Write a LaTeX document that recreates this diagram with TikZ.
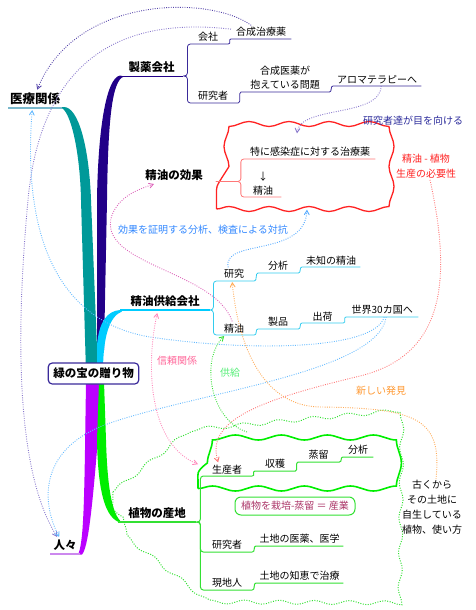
\documentclass[tikz,border=0pt]{standalone}
\usepackage{fontspec}
\setmainfont{Noto Sans CJK JP}
\usepackage{tikz}
\usetikzlibrary{arrows,decorations.pathmorphing}
\definecolor{cteal}{HTML}{009999}
\definecolor{ciryo}{HTML}{7AB8CC}
\definecolor{cind}{HTML}{220088}
\definecolor{cindl}{HTML}{3A2A9A}
\definecolor{ccyan}{HTML}{00CCFF}
\definecolor{ccyanl}{HTML}{33CCEE}
\definecolor{cpurple}{HTML}{BB00FF}
\definecolor{clav}{HTML}{CC88EE}
\definecolor{cgreen}{HTML}{00EE00}
\definecolor{cgreenl}{HTML}{33E033}
\definecolor{cred}{HTML}{FF2222}
\definecolor{credl}{HTML}{FF7777}
\definecolor{corange}{HTML}{FFAA55}
\definecolor{corangel}{HTML}{FF9933}
\definecolor{cpink}{HTML}{DD66BB}
\definecolor{crose}{HTML}{FF88BB}
\definecolor{croset}{HTML}{FF6699}
\definecolor{csky}{HTML}{66BBFF}
\definecolor{cskyd}{HTML}{55AAFF}
\definecolor{cblue}{HTML}{3388FF}
\definecolor{cmukeru}{HTML}{2B2B9B}
\definecolor{clink}{HTML}{5544AA}
\definecolor{clinkl}{HTML}{8877CC}
\definecolor{clime}{HTML}{55EE77}
\definecolor{csangyo}{HTML}{AA3366}

\begin{document}
\begin{tikzpicture}[x=1pt,y=-1pt,>=angle 60,
  topic node/.style={anchor=south west,inner xsep=0pt,inner ysep=3pt,
    font=\fontsize{11.5}{14}\selectfont\bfseries},
  leaf node/.style={anchor=south west,inner xsep=0pt,inner ysep=2pt,align=center,
    font=\fontsize{10}{14}\selectfont},
  note node/.style={inner sep=1pt,align=center,font=\fontsize{10}{15}\selectfont},
  link/.style={->,dash pattern=on 0.9pt off 1.4pt,line width=0.9pt},
  cloud node/.style={decorate,decoration={snake,amplitude=2.5pt,segment length=40pt},inner sep=0pt}]
  \useasboundingbox (0,0) rectangle (475,610);

  % boundaries
  \draw[cgreenl,dash pattern=on 1pt off 1.5pt,line width=1pt,decorate,
    decoration={snake,amplitude=2pt,segment length=35pt}]
    (113,492) -- (180,438) -- (395,418) -- (393,605) -- (197,604) -- (112,537) -- cycle;
  \coordinate (cl) at (247,432);
  \node[cloud node,draw=cgreen,line width=1.6pt,minimum width=182,minimum height=55,
    decoration={segment length=46pt}] (prodcloud) at (289,461) {};
  \node[cloud node,draw=cred,line width=1.3pt,minimum width=167,minimum height=75] (effcloud) at (300,171.5) {};

  % thick branches
  \fill[cteal] (60,107.5) .. controls (70,108) and (80,150) .. (81,200) -- (86,372)
    -- (98,372) -- (91,200) .. controls (89,145) and (78,107) .. (64,107) -- cycle;
  \fill[cind] (120,75.5) .. controls (106,78) and (98,130) .. (97,200) -- (97,350)
    -- (104,350) -- (107,200) .. controls (108,120) and (112,80) .. (124,76.5) -- cycle;
  \fill[ccyan] (97,372) -- (97,345) .. controls (99,322) and (107,311) .. (120,310)
    -- (122,311.5) .. controls (110,316) and (103,335) .. (103,372) -- cycle;
  \fill[cpurple] (86,382) -- (85,450) .. controls (84,510) and (83,545) .. (78,554.5)
    -- (82,554.5) .. controls (88,548) and (92,510) .. (97,450) -- (100,382) -- cycle;
  \fill[cgreen] (99,382) -- (97,440) .. controls (98,495) and (106,518) .. (120,522.5)
    -- (120,520.5) .. controls (110,510) and (107,475) .. (106,440) -- (104,382) -- cycle;

  % topics
  \node[topic node,minimum width=54,font=\fontsize{12.5}{14}\selectfont\bfseries] (iryo) at (8,108) {医療関係};
  \node[topic node,minimum width=63] (seiyaku) at (120,76) {製薬会社};
  \node[topic node,minimum width=90] (kyokyu) at (120,310) {精油供給会社};
  \node[topic node,minimum width=78] (sanchi) at (118,522) {植物の産地};
  \node[topic node,minimum width=30] (hitobito) at (50,554) {人々};
  \node[font=\fontsize{11.5}{14}\selectfont\bfseries] (koka) at (174,175) {精油の効果};
  \draw[ciryo,line width=1.5pt] (iryo.south west) -- (iryo.south east);
  \draw[cind,line width=1pt] (seiyaku.south west) -- (seiyaku.south east);
  \draw[ccyan,line width=1.2pt] (kyokyu.south west) -- (kyokyu.south east);
  \draw[cgreenl,line width=1.2pt] (sanchi.south west) -- (sanchi.south east);
  \draw[clav,line width=1.5pt] (hitobito.south west) -- (hitobito.south east);

  % leaves
  \node[leaf node,minimum width=40] (kaisha) at (188,44) {会社};
  \node[leaf node,minimum width=60] (gosei) at (231,39) {合成治療薬};
  \node[leaf node,minimum width=50] (kenkyusha) at (188,103) {研究者};
  \node[leaf node,minimum width=88] (mondai) at (241,92) {合成医薬が\\抱えている問題};
  \node[leaf node,minimum width=88] (aroma) at (333,86) {アロマテラピーへ};
  \draw[cindl,line width=0.8pt,rounded corners=3pt] (seiyaku.south east) -- ++(4,0) |- (kaisha.south east);
  \draw[cindl,line width=0.8pt,rounded corners=3pt] (seiyaku.south east) -- ++(4,0) |- (kenkyusha.south east);
  \draw[cindl,line width=0.8pt] (kaisha.south east) .. controls +(3,0) and +(-3,0) .. (gosei.south west) -- (gosei.south east);
  \draw[cindl,line width=0.8pt] (kenkyusha.south east) .. controls +(3,0) and +(-3,0) .. (mondai.south west)
    -- (mondai.south east) .. controls +(3,0) and +(-3,0) .. (aroma.south west) -- (aroma.south east);

  \node[leaf node,minimum width=130] (toku) at (245,159) {特に感染症に対する治療薬};
  \node[leaf node,minimum width=36] (oil) at (245,197) {↓\\精油};
  \draw[credl,line width=0.8pt,rounded corners=3pt] ([yshift=-10pt]effcloud.west) -- ++(25,0) |- (toku.south east);
  \draw[credl,line width=0.8pt,rounded corners=3pt] ([yshift=-10pt]effcloud.west) -- ++(25,0) |- (oil.south east);

  \node[leaf node,minimum width=40] (kenkyu) at (214,281) {研究};
  \node[leaf node,minimum width=40] (bunseki) at (258,273) {分析};
  \node[leaf node,minimum width=58] (michi) at (302,267) {未知の精油};
  \node[leaf node,minimum width=40] (seiyu) at (214,335) {精油};
  \node[leaf node,minimum width=40] (seihin) at (258,329) {製品};
  \node[leaf node,minimum width=41] (shukka) at (302,323) {出荷};
  \node[leaf node,minimum width=72] (sekai) at (346,317) {世界30カ国へ};
  \draw[ccyanl,line width=0.8pt,rounded corners=3pt] (kyokyu.south east) -- ++(3,0) |- (kenkyu.south east);
  \draw[ccyanl,line width=0.8pt,rounded corners=3pt] (kyokyu.south east) -- ++(3,0) |- (seiyu.south east);
  \draw[ccyanl,line width=0.8pt] (kenkyu.south east) .. controls +(3,0) and +(-3,0) .. (bunseki.south west)
    -- (bunseki.south east) .. controls +(3,0) and +(-3,0) .. (michi.south west) -- (michi.south east);
  \draw[ccyanl,line width=0.8pt] (seiyu.south east) .. controls +(3,0) and +(-3,0) .. (seihin.south west)
    -- (seihin.south east) .. controls +(3,0) and +(-3,0) .. (shukka.south west)
    -- (shukka.south east) .. controls +(3,0) and +(-3,0) .. (sekai.south west) -- (sekai.south east);

  \node[leaf node,minimum width=50] (seisansha) at (202,476) {生産者};
  \node[leaf node,minimum width=40] (shukaku) at (255,471) {収穫};
  \node[leaf node,minimum width=41] (joryu) at (298,462) {蒸留};
  \node[leaf node,minimum width=30] (bunseki2) at (343,457) {分析};
  \node[leaf node,minimum width=50] (kenkyusha2) at (202,552) {研究者};
  \node[leaf node,minimum width=87] (iyaku) at (256,546) {土地の医薬、医学};
  \node[leaf node,minimum width=50] (genchi) at (202,590) {現地人};
  \node[leaf node,minimum width=87] (chie) at (256,583) {土地の知恵で治療};
  \node[draw=cgreenl,line width=1pt,rounded corners=6pt,text=csangyo,minimum width=120,minimum height=18,
    inner sep=1pt,font=\fontsize{10}{14}\selectfont] (sangyo) at (295,506) {植物を栽培-蒸留 ＝ 産業};
  \draw[cgreenl,line width=1pt,rounded corners=3pt] (sanchi.south east) -- ++(4,0) |- (seisansha.south east);
  \draw[cgreenl,line width=1pt,rounded corners=3pt] (sanchi.south east) -- ++(4,0) |- (kenkyusha2.south east);
  \draw[cgreenl,line width=1pt,rounded corners=3pt] (sanchi.south east) -- ++(4,0) |- (genchi.south east);
  \draw[cgreenl,line width=1pt] (seisansha.south east) .. controls +(3,0) and +(-3,0) .. (shukaku.south west)
    -- (shukaku.south east) .. controls +(3,0) and +(-3,0) .. (joryu.south west)
    -- (joryu.south east) .. controls +(3,0) and +(-3,0) .. (bunseki2.south west) -- (bunseki2.south east);
  \draw[cgreenl,line width=1pt] (kenkyusha2.south east) .. controls +(3,0) and +(-3,0) .. (iyaku.south west) -- (iyaku.south east);
  \draw[cgreenl,line width=1pt] (genchi.south east) .. controls +(3,0) and +(-3,0) .. (chie.south west) -- (chie.south east);

  % notes
  \node[note node,text=cmukeru] (mukeru) at (413,121) {研究者達が目を向ける};
  \node[note node,text=cred] (hitsuyo) at (426,166.5) {精油 - 植物\\生産の必要性};
  \node[note node,text=cblue] (shomei) at (203,230) {効果を証明する分析、検査による対抗};
  \node[note node,text=croset] (shinrai) at (177,361) {信頼関係};
  \node[note node,text=clime] (kyokyul) at (230,373) {供給};
  \node[note node,text=corangel] (hakken) at (381,391) {新しい発見};
  \node[note node] (furuku) at (432,507.5) {古くから\\その土地に\\自生している\\植物、使い方};

  % relations
  \draw[link,clink] ([xshift=-10pt]gosei.north) .. controls (210,-5) and (75,-5) .. ([xshift=2pt]iryo.north);
  \draw[link,clinkl] ([yshift=3pt]gosei.west) .. controls (110,15) and (40,70) .. (28,200)
    .. controls (16,330) and (15,470) .. ([xshift=-8pt]hitobito.north);
  \draw[link,clinkl] ([xshift=4pt]aroma.south) .. controls (380,118) and (300,105) .. ([xshift=-3pt]effcloud.north);
  \draw[link,cskyd] ([xshift=-6pt]kenkyu.north) .. controls (222,238) and (305,258) .. ([xshift=7pt]effcloud.south);
  \draw[link,cpink] ([xshift=-2pt]seiyu.north) .. controls (215,270) and (95,265) .. (112,215)
    .. controls (120,195) and (140,189) .. ([xshift=-20pt]koka.south);
  \draw[link,csky] ([xshift=2pt]sekai.south) .. controls (375,350) and (250,352) .. (150,337)
    .. controls (60,322) and (22,240) .. ([xshift=-3pt,yshift=-2pt]iryo.south);
  \draw[link,csky] ([xshift=4pt]sekai.south) .. controls (378,372) and (200,392) .. (110,423)
    .. controls (40,447) and (40,500) .. ([xshift=-6pt]hitobito.north);
  \draw[link,credl] ([xshift=4pt]hitsuyo.south) .. controls (452,280) and (445,355) .. (360,376)
    .. controls (260,400) and (205,420) .. ([xshift=-9pt]seisansha.north);
  \draw[link,corange] ([xshift=4pt]furuku.north) .. controls (442,420) and (420,408) .. (320,407)
    .. controls (262,406) and (238,345) .. ([xshift=-2pt,yshift=-1pt]kenkyu.south);
  \draw[link,cgreenl] (cl) .. controls (210,420) and (200,360) .. ([xshift=-10pt,yshift=-1pt]seiyu.south);
  \draw[link,<->,crose] ([xshift=-8pt,yshift=-3pt]kyokyu.south) .. controls (145,370) and (150,445)
    .. ([xshift=-4pt,yshift=5pt]seisansha.west);

  % centre
  \node[draw=cindl,line width=1.2pt,fill=white,rounded corners=4pt,minimum height=21,inner xsep=5pt,
    font=\fontsize{11.5}{14}\selectfont\bfseries] (gift) at (93.5,373.5) {緑の宝の贈り物};
\end{tikzpicture}
\end{document}
